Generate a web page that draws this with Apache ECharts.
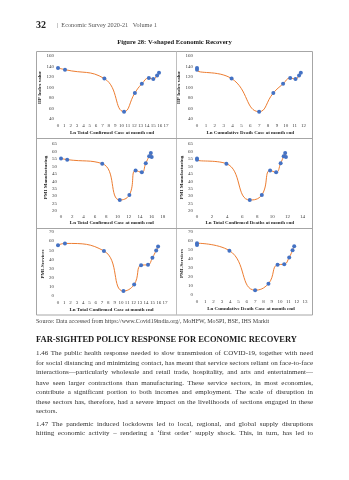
<!DOCTYPE html>
<html><head><meta charset="utf-8">
<script src="https://cdn.jsdelivr.net/npm/echarts@6/dist/echarts.min.js"></script>
<style>html,body{margin:0;padding:0;background:#fff}#c{width:349px;height:480px}</style>
</head><body><div id="c"></div>
<script>
// ---- data ----
const lnCases  = [0, 1.1, 7.3, 10.4, 12.1, 13.2, 14.3, 15.0, 15.6, 15.9, 16.05];
const lnDeaths = [0, 0, 3.9, 7.0, 8.6, 9.7, 10.5, 11.1, 11.5, 11.7, 11.8];
const iip      = [137, 134, 117, 54, 89.5, 107, 118, 116, 123, 128];
const pmiMfg   = [55.3, 54.5, 51.8, 27.4, 30.8, 47.2, 46.0, 52.0, 56.8, 58.9, 56.3];
const pmiSvc   = [55.5, 57.5, 49.3, 5.4, 12.6, 33.7, 34.2, 41.8, 49.8, 54.1];

const xTitles = ['Ln Total Confirmed Case at month end', 'Ln Cumulative Death Case at month end',
                 'Ln Total Confirmed Case at month end', 'Ln Total Confirmed Deaths at month end',
                 'Ln Total Confirmed Case at month end', 'Ln Cumulative Death Case at month end'];
const yTitles = ['IIP Index value', 'IIP Index value', 'PMI Manufacturing', 'PMI Manufacturing', 'PMI-Services', 'PMI-Services'];
const xMax = [17, 12, 18, 14, 17, 13];
const xStep = [1, 1, 2, 2, 1, 1];
const yMin = [40, 40, 20, 20, 0, 0];
const yMax = [160, 160, 65, 65, 70, 70];
const yStep = [20, 20, 5, 5, 10, 10];

const headerNum = '32';
const headerText = '|  Economic Survey 2020-21   Volume 1';
const figTitle = 'Figure 28: V-shaped Economic Recovery';
const sourceText = 'Source: Data accessed from https://www.Covid19india.org/, MoHFW, MoSPI, BSE, IHS Markit';
const heading = 'FAR-SIGHTED POLICY RESPONSE FOR ECONOMIC RECOVERY';
const paraLines = [
 '1.46  The public health response needed to slow transmission of COVID-19, together with need',
 'for social distancing and minimizing contact, has meant that service sectors reliant on face-to-face',
 'interactions\u2014particularly wholesale and retail trade, hospitality, and arts and entertainment\u2014',
 'have seen larger contractions than manufacturing. These service sectors, in most economies,',
 'contribute a significant portion to both incomes and employment. The scale of disruption in',
 'these sectors has, therefore, had a severe impact on the livelihoods of sections engaged in these',
 'sectors.',
 '1.47  The pandemic induced lockdowns led to local, regional, and global supply disruptions',
 'hitting economic activity \u2013 rendering a \u2018first order\u2019 supply shock. This, in turn, has led to'
];

// ---- helpers ----
const FF = '"Liberation Serif", "Times New Roman", serif';
const mctx = document.createElement('canvas').getContext('2d');
function measure(t, size, weight) { mctx.font = (weight || 'normal') + ' ' + size + 'px ' + FF; return mctx.measureText(t).width; }
function fitSize(t, target, weight) { return 10 * target / measure(t, 10, weight); }
function txt(t, x, y, size, opts) {
  opts = opts || {};
  return { type: 'text', x: x, y: y, silent: true, style: {
    text: t, fontSize: size, fontFamily: FF, fontWeight: opts.weight || 'normal',
    fill: opts.fill || '#262626', textAlign: opts.align || 'left', align: opts.align || 'left',
    textVerticalAlign: 'middle', verticalAlign: 'middle' } };
}
function justifyLine(line, x0, width, y, size, doJustify) {
  if (!doJustify) return [txt(line, x0, y, size, {fill: '#303030'})];
  const words = line.split(/\s+/);
  const ws = words.map(w => measure(w, size));
  const total = ws.reduce((a, b) => a + b, 0);
  const gap = (width - total) / (words.length - 1);
  let x = x0; const out = [];
  words.forEach((w, i) => { out.push(txt(w, x, y, size, {fill: '#303030'})); x += ws[i] + gap; });
  return out;
}

// ---- layout ----
const gridsPx = [
  {left: 58, top: 56, width: 108, height: 63},
  {left: 197, top: 56, width: 106.5, height: 63},
  {left: 61, top: 144, width: 101.7, height: 67},
  {left: 197, top: 144, width: 105.5, height: 67},
  {left: 58, top: 232, width: 107, height: 64},
  {left: 197, top: 232, width: 108, height: 63}
];
const xLabelMargin = [4, 4, 3, 3, 4, 4];
const xNameGap = [11.5, 11, 8.5, 8.5, 11, 11];
const yNameGap = [11.5, 10.5, 11.5, 10.5, 13, 11.5];

const seriesData = [
  lnCases.slice(0, iip.length).map((x, i) => [x, iip[i]]),
  lnDeaths.slice(0, iip.length).map((x, i) => [x, iip[i]]),
  lnCases.slice(0, pmiMfg.length).map((x, i) => [x, pmiMfg[i]]),
  lnDeaths.slice(0, pmiMfg.length).map((x, i) => [x, pmiMfg[i]]),
  lnCases.slice(0, pmiSvc.length).map((x, i) => [x, pmiSvc[i]]),
  lnDeaths.slice(0, pmiSvc.length).map((x, i) => [x, pmiSvc[i]])
];

const grid = [], xAxis = [], yAxis = [], series = [];
for (let k = 0; k < 6; k++) {
  grid.push(Object.assign({containLabel: false}, gridsPx[k]));
  xAxis.push({
    type: 'value', gridIndex: k, min: 0, max: xMax[k], interval: xStep[k],
    name: xTitles[k], nameLocation: 'middle', nameGap: xNameGap[k],
    nameTextStyle: {fontFamily: FF, fontWeight: 'bold', fontSize: 5, color: '#262626'},
    axisLine: {show: false}, axisTick: {show: false}, splitLine: {show: false},
    axisLabel: {fontFamily: FF, fontSize: 5, color: '#404040', margin: xLabelMargin[k], hideOverlap: false}
  });
  yAxis.push({
    type: 'value', gridIndex: k, min: yMin[k], max: yMax[k], interval: yStep[k],
    name: yTitles[k], nameLocation: 'middle', nameGap: yNameGap[k], nameRotate: 90,
    nameTextStyle: {fontFamily: FF, fontWeight: 'bold', fontSize: 5, color: '#262626'},
    axisLine: {show: false}, axisTick: {show: false}, splitLine: {show: false},
    axisLabel: {fontFamily: FF, fontSize: 5, color: '#404040', margin: 4}
  });
  series.push({
    type: 'line', xAxisIndex: k, yAxisIndex: k, data: seriesData[k], smooth: 0.5,
    symbol: 'circle', symbolSize: 4, showSymbol: true,
    lineStyle: {color: '#ED7D31', width: 1},
    itemStyle: {color: '#4472C4'}, z: 3, animation: false
  });
}

const graphic = [];
// figure boxes
graphic.push({type: 'rect', shape: {x: 36.5, y: 51.5, width: 276, height: 263.5}, style: {fill: 'none', stroke: '#a6a6a6', lineWidth: 1}, silent: true});
graphic.push({type: 'line', shape: {x1: 176.5, y1: 51.5, x2: 176.5, y2: 315}, style: {stroke: '#bfbfbf', lineWidth: 1}, silent: true});
graphic.push({type: 'line', shape: {x1: 36.5, y1: 138.5, x2: 312.5, y2: 138.5}, style: {stroke: '#a6a6a6', lineWidth: 1}, silent: true});
graphic.push({type: 'line', shape: {x1: 36.5, y1: 228.5, x2: 312.5, y2: 228.5}, style: {stroke: '#a6a6a6', lineWidth: 1}, silent: true});

// header
graphic.push(txt(headerNum, 36, 25, fitSize(headerNum, 10, 'bold'), {weight: 'bold', fill: '#222'}));
graphic.push(txt(headerText, 57, 25, fitSize(headerText, 100), {fill: '#555'}));
graphic.push(txt(figTitle, 174.5, 42.7, fitSize(figTitle, 115, 'bold'), {weight: 'bold', align: 'center', fill: '#1a1a1a'}));
graphic.push(txt(sourceText, 36, 321, fitSize(sourceText, 234), {fill: '#404040'}));
graphic.push(txt(heading, 36, 340, fitSize(heading, 261, 'bold'), {weight: 'bold', fill: '#1a1a1a'}));

const lineYs = [353.3, 362.8, 372.6, 382.9, 392.5, 402.1, 411.6, 424, 433.4];
const justifyFlags = [true, true, true, true, true, true, false, true, true];
paraLines.forEach((l, i) => { justifyLine(l, 36, 277, lineYs[i], 7, justifyFlags[i]).forEach(e => graphic.push(e)); });

const chart = echarts.init(document.getElementById('c'), null, {renderer: 'canvas'});
chart.setOption({backgroundColor: '#ffffff', animation: false, grid, xAxis, yAxis, series, graphic});
</script></body></html>
